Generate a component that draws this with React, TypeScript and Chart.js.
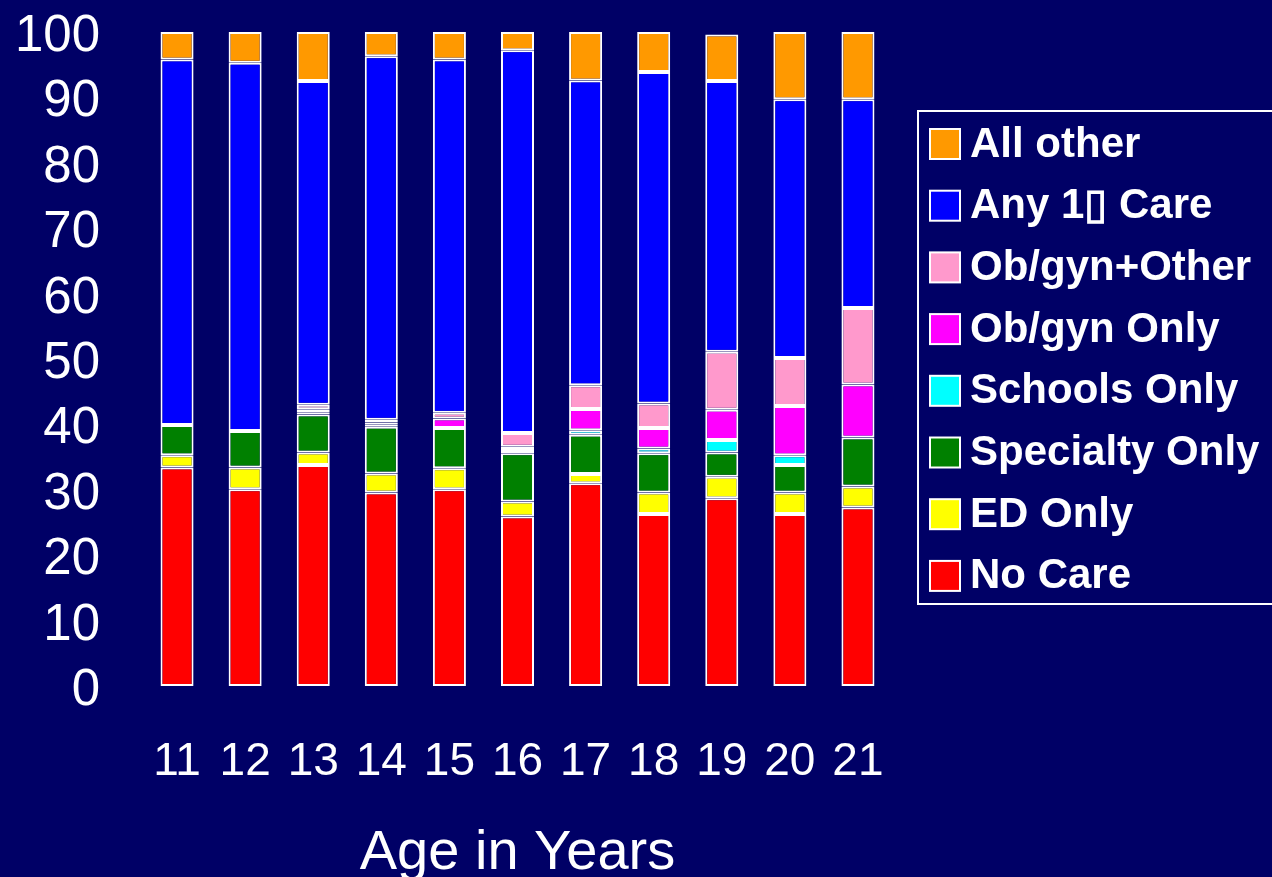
import React, { useEffect, useRef } from "react";
import { Chart, registerables } from "chart.js";

Chart.register(...registerables);

const ages = ["11", "12", "13", "14", "15", "16", "17", "18", "19", "20", "21"];

const noCare = [33.4, 30.1, 33.8, 29.6, 30.1, 25.9, 31.0, 26.3, 28.7, 26.3, 27.3];
const edOnly = [1.9, 3.3, 1.9, 2.9, 3.2, 2.3, 1.4, 3.3, 3.3, 3.3, 3.2];
const specialtyOnly = [4.6, 5.6, 5.8, 7.15, 6.15, 7.4, 6.0, 6.0, 3.7, 4.2, 7.5];
const schoolsOnly = [0, 0, 0.3, 0.3, 0, 0.5, 0.7, 0.7, 1.9, 1.5, 0];
const obgynOnly = [0, 0, 0.5, 0.35, 1.45, 0.5, 3.25, 3.15, 4.65, 7.5, 8.1];
const obgynOther = [0, 0, 0.7, 0.4, 0.9, 2.1, 3.65, 3.75, 8.85, 7.35, 11.7];
const anyPrimary = [55.9, 56.3, 49.5, 55.6, 54.0, 58.5, 46.6, 50.7, 41.4, 39.55, 31.9];
const allOther = [4.2, 4.7, 7.5, 3.7, 4.2, 2.8, 7.4, 6.1, 7.1, 10.3, 10.3];

const seriesLabels = [
  "No Care",
  "ED Only",
  "Specialty Only",
  "Schools Only",
  "Ob/gyn Only",
  "Ob/gyn+Other",
  "Any 1\u25AF Care",
  "All other",
];
const seriesValues = [noCare, edOnly, specialtyOnly, schoolsOnly, obgynOnly, obgynOther, anyPrimary, allOther];
const seriesColors = ["#FF0000", "#FFFF00", "#008000", "#00FFFF", "#FF00FF", "#FF99CC", "#0000FF", "#FF9900"];

const yTicks = [0, 10, 20, 30, 40, 50, 60, 70, 80, 90, 100];

const BG = "#000066";
const FONT = "'Liberation Sans', Arial, Helvetica, sans-serif";

const boxedLegend = {
  id: "boxedLegend",
  afterDraw(chart: any) {
    const ctx = chart.ctx;
    const ds = chart.data.datasets.slice().reverse();
    const left = 918;
    const top = 111;
    const rowH = 61.7;
    ctx.save();
    ctx.strokeStyle = "#FFFFFF";
    ctx.lineWidth = 2;
    ctx.strokeRect(left, top, 400, 493);
    ctx.font = `bold 42px ${FONT}`;
    ctx.textBaseline = "middle";
    ctx.textAlign = "left";
    ds.forEach((d: any, i: number) => {
      const cy = top + 33 + i * rowH;
      ctx.fillStyle = d.backgroundColor;
      ctx.fillRect(left + 12, cy - 15, 30, 30);
      ctx.lineWidth = 2;
      ctx.strokeStyle = "#FFFFFF";
      ctx.strokeRect(left + 12, cy - 15, 30, 30);
      ctx.fillStyle = "#FFFFFF";
      ctx.fillText(d.label, left + 52, cy + 1);
    });
    ctx.restore();
  },
};

export default function App() {
  const ref = useRef<HTMLCanvasElement | null>(null);
  useEffect(() => {
    if (!ref.current) return;
    const chart = new Chart(ref.current, {
      type: "bar",
      data: {
        labels: ages,
        datasets: seriesLabels.map((label, i) => ({
          label,
          data: seriesValues[i],
          backgroundColor: seriesColors[i],
          borderColor: "#FFFFFF",
          borderWidth: 2,
          borderSkipped: false,
          categoryPercentage: 1,
          barPercentage: 0.485,
        })),
      },
      options: {
        animation: false,
        responsive: false,
        maintainAspectRatio: false,
        layout: { padding: { top: 32, right: 380, left: 0, bottom: 0 } },
        plugins: { legend: { display: false }, tooltip: { enabled: false } },
        scales: {
          x: {
            stacked: true,
            grid: { display: false, drawTicks: false },
            border: { display: false },
            ticks: { color: "#FFFFFF", font: { family: FONT, size: 46 }, padding: 49, maxRotation: 0, autoSkip: false },
            title: {
              display: true,
              text: "Age in Years",
              color: "#FFFFFF",
              font: { family: FONT, size: 56, lineHeight: 0.82 },
              padding: 0,
            },
            afterFit: (s: any) => {
              s.height = 191;
              s.paddingLeft = 0;
              s.paddingRight = 0;
            },
          },
          y: {
            stacked: true,
            min: 0,
            max: 100,
            grid: { display: false, drawTicks: false },
            border: { display: false },
            afterBuildTicks: (s: any) => {
              s.ticks = yTicks.map((v) => ({ value: v }));
            },
            ticks: { color: "#FFFFFF", font: { family: FONT, size: 51 }, padding: 43, stepSize: 10, labelOffset: 5 },
            afterFit: (s: any) => {
              s.width = 143;
              s.paddingTop = 0;
              s.paddingBottom = 0;
            },
          },
        },
      },
      plugins: [
        {
          id: "bg",
          beforeDraw(c: any) {
            const ctx = c.ctx;
            ctx.save();
            ctx.fillStyle = BG;
            ctx.fillRect(0, 0, c.width, c.height);
            ctx.restore();
          },
        },
        boxedLegend,
      ],
    });
    return () => chart.destroy();
  }, []);
  return (
    <div style={{ position: "fixed", left: 0, top: 0, width: 1272, height: 877, background: BG }}>
      <canvas ref={ref} width={1272} height={877} style={{ display: "block", width: 1272, height: 877 }} />
    </div>
  );
}
